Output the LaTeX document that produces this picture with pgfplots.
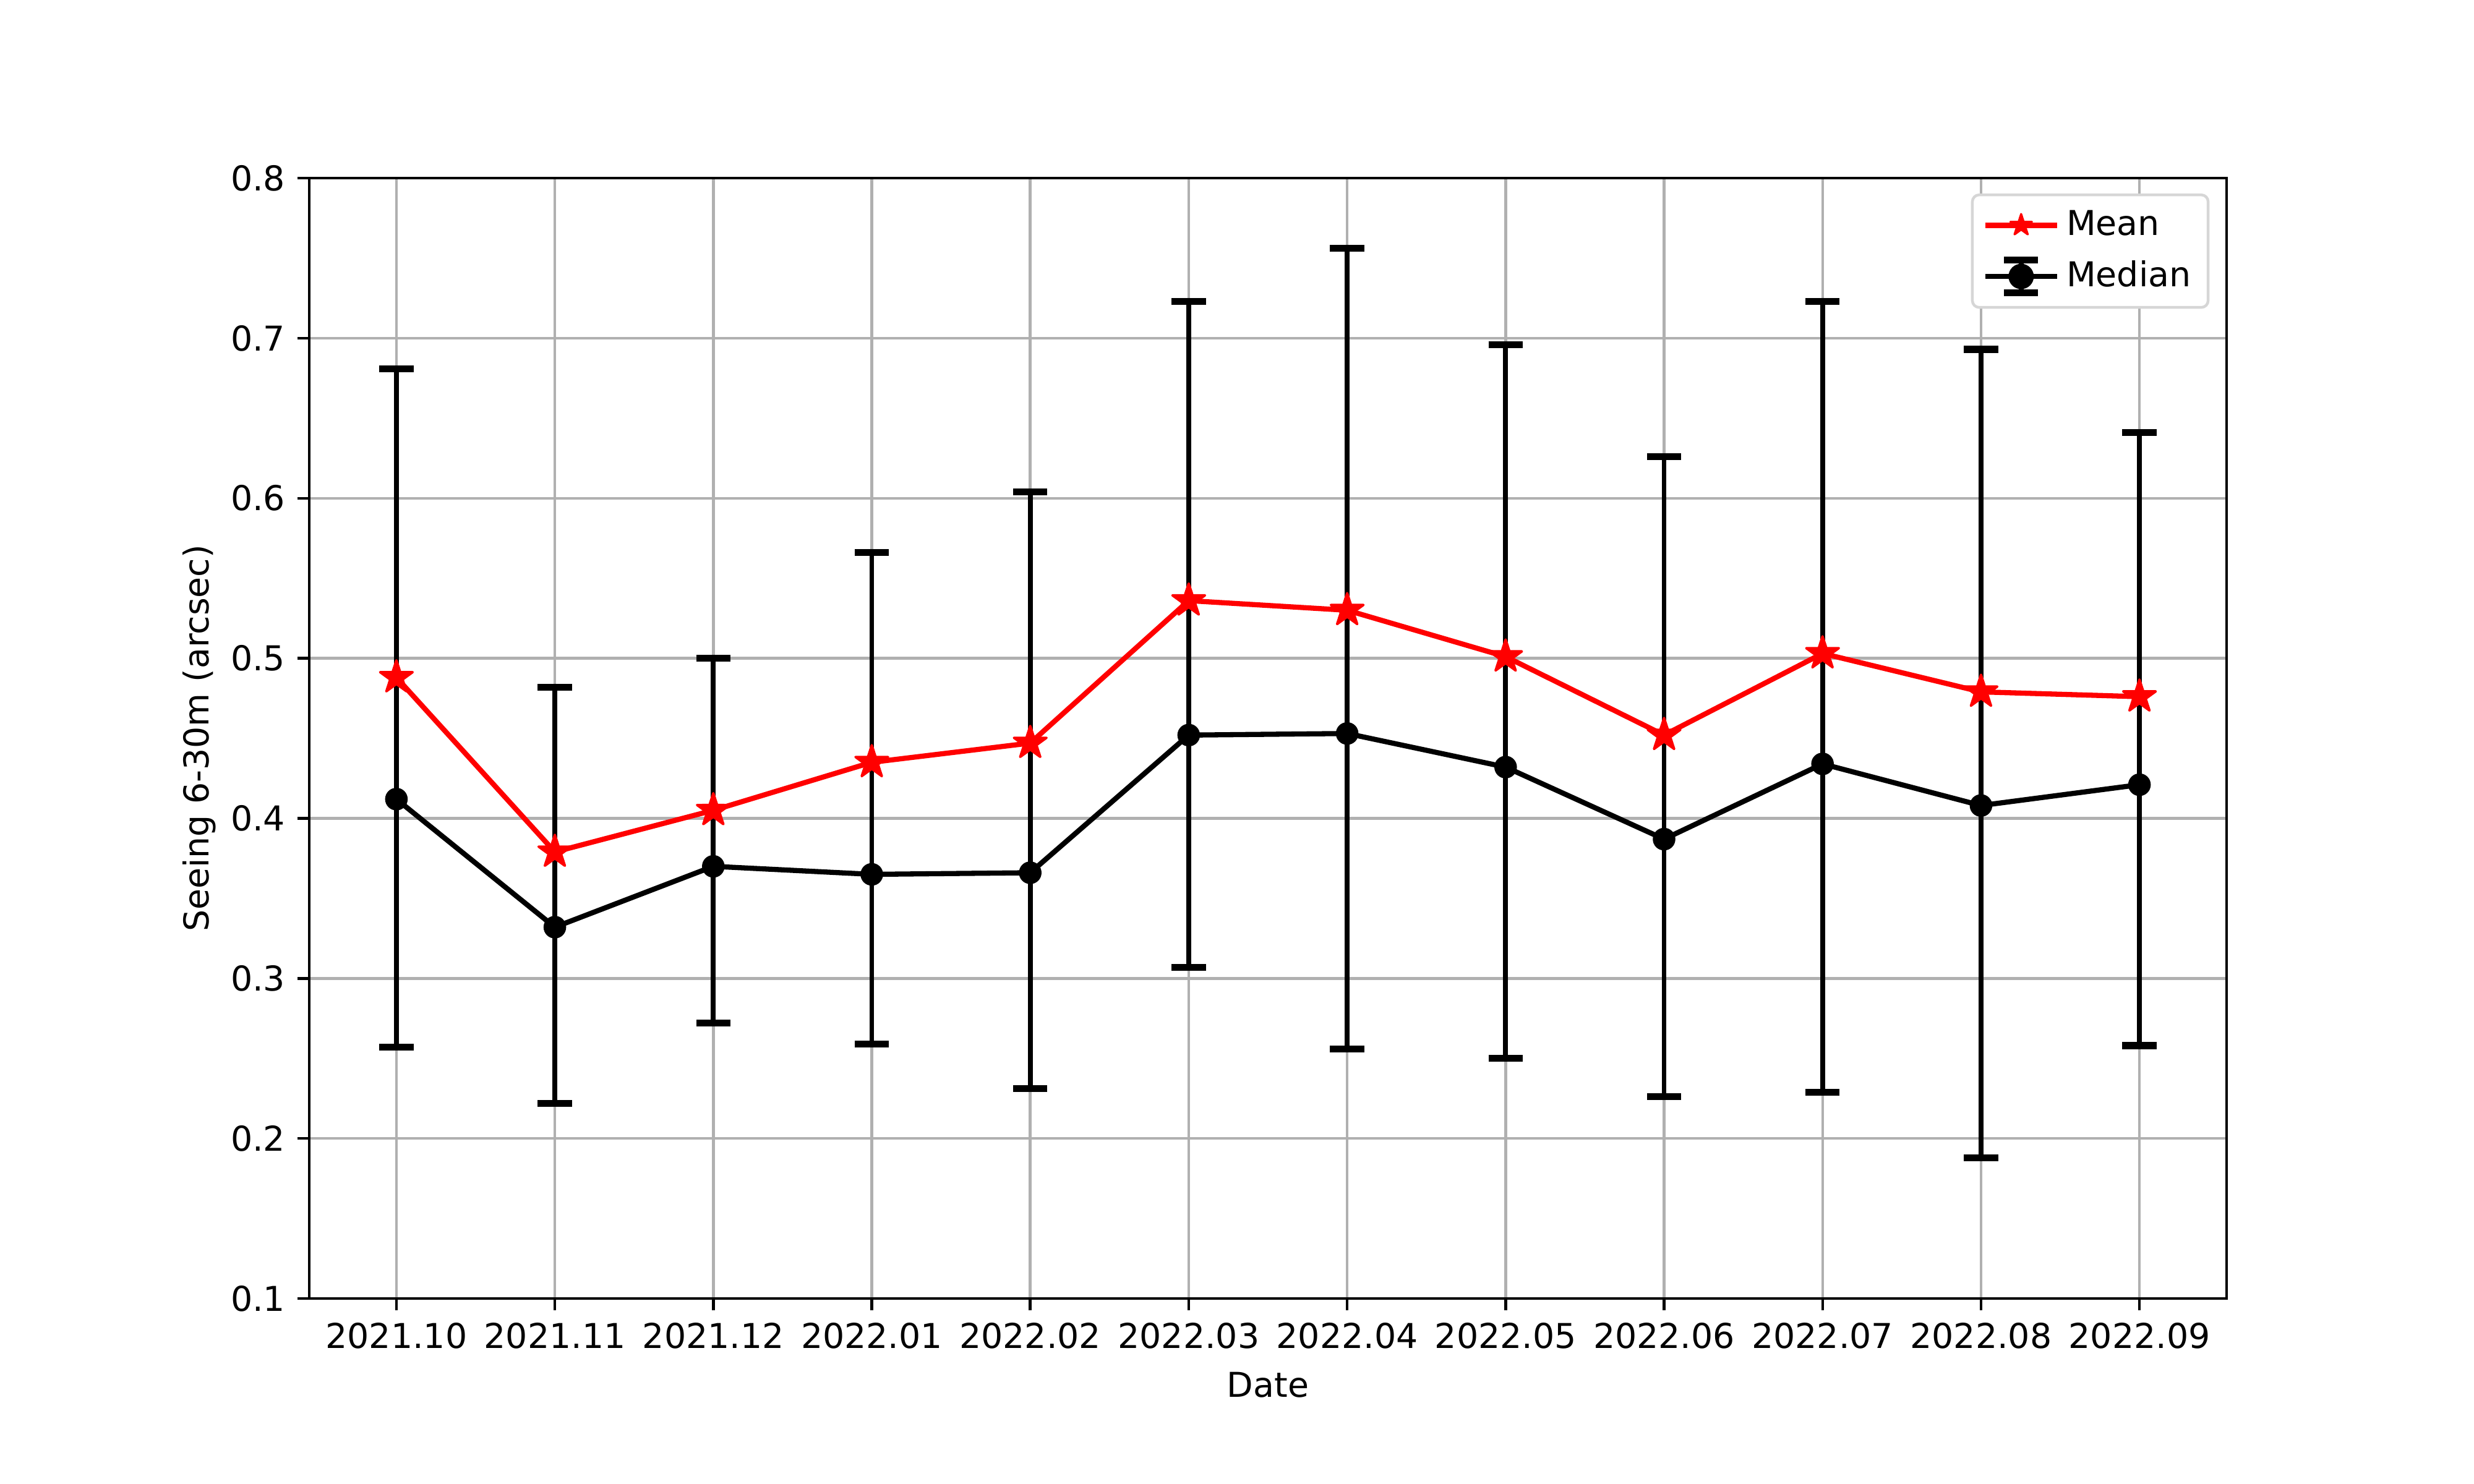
\documentclass[border=0pt]{standalone}
\usepackage{fontspec}
\setmainfont{DejaVu Sans}
\usepackage{pgfplots}
\usepackage{pgfplotstable}
\pgfplotsset{compat=1.18}
\definecolor{gridgray}{HTML}{B0B0B0}
\definecolor{legframe}{HTML}{D6D6D6}

% filled five-point star, outer radius = mark size
\pgfdeclareplotmark{fstar}{%
  \pgfpathmoveto{\pgfpointpolar{90}{\pgfplotmarksize}}%
  \pgfpathlineto{\pgfpointpolar{126}{0.382\pgfplotmarksize}}%
  \pgfpathlineto{\pgfpointpolar{162}{\pgfplotmarksize}}%
  \pgfpathlineto{\pgfpointpolar{198}{0.382\pgfplotmarksize}}%
  \pgfpathlineto{\pgfpointpolar{234}{\pgfplotmarksize}}%
  \pgfpathlineto{\pgfpointpolar{270}{0.382\pgfplotmarksize}}%
  \pgfpathlineto{\pgfpointpolar{306}{\pgfplotmarksize}}%
  \pgfpathlineto{\pgfpointpolar{342}{0.382\pgfplotmarksize}}%
  \pgfpathlineto{\pgfpointpolar{18}{\pgfplotmarksize}}%
  \pgfpathlineto{\pgfpointpolar{54}{0.382\pgfplotmarksize}}%
  \pgfpathclose
  \pgfusepathqfillstroke}

% x  median  low  high  mean
\pgfplotstableread{
x  med    lo     hi     mean
0  0.412  0.257  0.681  0.488
1  0.332  0.222  0.482  0.379
2  0.370  0.272  0.500  0.405
3  0.365  0.259  0.566  0.435
4  0.366  0.231  0.604  0.447
5  0.452  0.307  0.723  0.536
6  0.453  0.256  0.756  0.530
7  0.432  0.250  0.696  0.501
8  0.387  0.226  0.626  0.452
9  0.434  0.229  0.723  0.503
10 0.408  0.188  0.693  0.479
11 0.421  0.258  0.641  0.476
}\seeing

\newcommand{\tensize}{\fontsize{10}{12}\selectfont}

\begin{document}
\begin{tikzpicture}
\path[use as bounding box] (-1.25in,-0.75in) rectangle (8.75in,5.25in);
\begin{axis}[
  at={(0,0)}, anchor=south west,
  scale only axis, width=7.75in, height=4.53in,
  xmin=-0.55, xmax=11.55, ymin=0.1, ymax=0.8,
  xtick={0,...,11},
  xticklabels={2021.10,2021.11,2021.12,2022.01,2022.02,2022.03,2022.04,2022.05,2022.06,2022.07,2022.08,2022.09},
  ytick={0.1,0.2,...,0.8},
  yticklabel style={/pgf/number format/.cd, fixed, fixed zerofill, precision=1, assume math mode=true},
  /pgf/number format/assume math mode=true,
  tick label style={font=\tensize},
  label style={font=\tensize},
  xlabel={Date}, ylabel={Seeing 6-30m (arcsec)},
  ylabel style={yshift=-2.5pt},
  grid=major, major grid style={gridgray, line width=0.8pt},
  axis line style={line width=0.8pt},
  tick align=outside, major tick length=3.5pt,
  tick style={black, line width=0.8pt},
  xtick pos=bottom, ytick pos=left,
  legend style={at={(1,1)}, anchor=north east, xshift=-5pt, yshift=-4.5pt,
    draw=legframe, line width=0.8pt, rounded corners=2pt, fill=white,
    font=\tensize, inner xsep=3pt, inner ysep=2.5pt, row sep=2pt,
    nodes={inner sep=2pt}},
  legend cell align=left,
  reverse legend,
]
\addplot[black, line width=1.5pt, mark=*, mark size=3pt,
  mark options={line width=0.6pt},
  error bars/.cd, y dir=both, y explicit,
  error bar style={line width=1.4pt},
  error mark options={rotate=90, line width=2pt, mark size=5pt, black}]
  table[x=x, y=med, y error plus expr={\thisrow{hi}-\thisrow{med}},
        y error minus expr={\thisrow{med}-\thisrow{lo}}] {\seeing};
\addlegendimage{black, legend image code/.code={
    \draw[black, line width=1.5pt] (0pt,0pt) -- (21pt,0pt);
    \draw[black, line width=1.4pt] (10.5pt,-4.8pt) -- (10.5pt,4.8pt);
    \draw[black, line width=2pt] (5.5pt,4.8pt) -- (15.5pt,4.8pt);
    \draw[black, line width=2pt] (5.5pt,-4.8pt) -- (15.5pt,-4.8pt);
    \fill[black] (10.5pt,0pt) circle (3.3pt);}}
\addlegendentry{Median}
\addplot[red, line width=1.5pt, mark=fstar, mark size=5pt,
  mark options={line width=0.7pt, line join=round, solid, fill=red},
  forget plot]
  table[x=x, y=mean] {\seeing};
\addlegendimage{red, legend image code/.code={
    \draw[red, line width=1.5pt] (0pt,0pt) -- (21pt,0pt);
    \draw[red, fill=red, line width=0.6pt, line join=round, mark=fstar, mark size=3.3pt]
      plot coordinates {(10.5pt,0pt)};}}
\addlegendentry{Mean}
\end{axis}
\end{tikzpicture}
\end{document}
